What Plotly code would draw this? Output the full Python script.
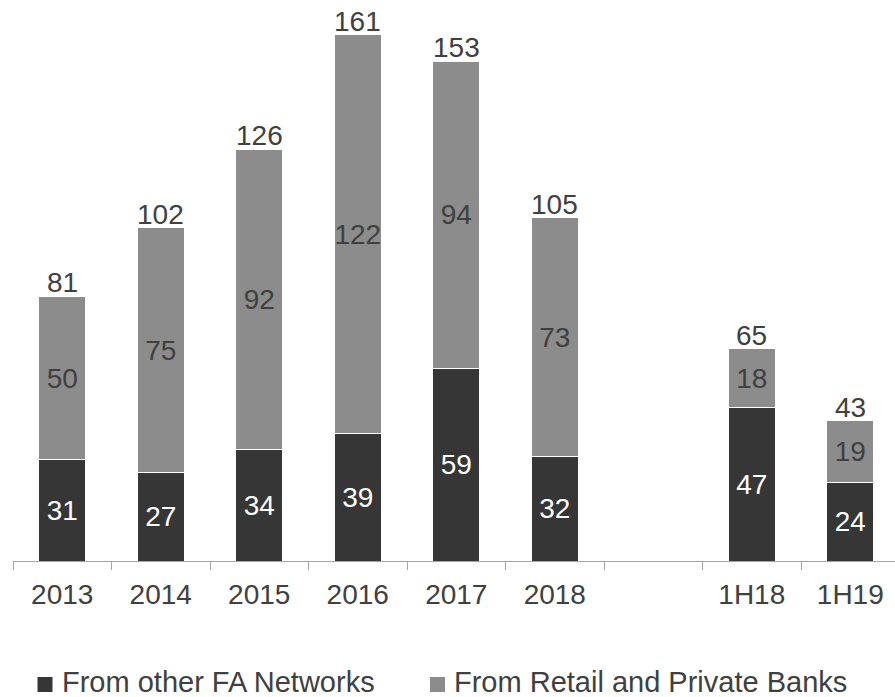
import plotly.graph_objects as go

# Periods on the category axis; the blank entry leaves a gap before the half-year bars
periods = ["2013", "2014", "2015", "2016", "2017", "2018", " ", "1H18", "1H19"]
fa_networks = [31, 27, 34, 39, 59, 32, None, 47, 24]
retail_private = [50, 75, 92, 122, 94, 73, None, 18, 19]
series_names = ["From other FA Networks", "From Retail and Private Banks"]

DARK = "#363636"
LIGHT = "#8c8c8c"
TEXT = "#404040"
FONT = "Liberation Sans, Arial, sans-serif"
FS = 28

W, H = 895, 697
ML, MR, MT, MB = 13, 0, 0, 136
PLOT_W = W - ML - MR
PLOT_H = H - MT - MB


def px_x(px):
    """Pixel column -> paper x."""
    return (px - ML) / PLOT_W


def px_y(py):
    """Pixel row (from top) -> paper y."""
    return (H - MB - py) / PLOT_H


totals = [a + b if a is not None else None for a, b in zip(fa_networks, retail_private)]

fig = go.Figure()
for vals, name, color, tcolor in [(fa_networks, series_names[0], DARK, "#ffffff"),
                                  (retail_private, series_names[1], LIGHT, TEXT)]:
    fig.add_trace(go.Bar(
        x=periods, y=vals, name=name, showlegend=False,
        marker=dict(color=color, line=dict(color="#ffffff", width=1)),
        width=0.48,
        text=[str(v) if v is not None else "" for v in vals],
        textposition="inside", insidetextanchor="middle", textangle=0,
        constraintext="none",
        textfont=dict(color=tcolor, size=FS, family=FONT),
    ))

# Stack totals above each bar
for i, t in enumerate(totals):
    if t is None:
        continue
    fig.add_annotation(x=i, y=t, text=str(t), showarrow=False, yanchor="bottom",
                       font=dict(color=TEXT, size=FS, family=FONT), yshift=-4)

# Legend row below the axis: square swatch followed by the series name
legend_rows = [(series_names[0], DARK, 37.5), (series_names[1], LIGHT, 430)]
for name, color, left in legend_rows:
    fig.add_shape(type="rect", xref="paper", yref="paper",
                  x0=px_x(left), x1=px_x(left + 15), y0=px_y(692), y1=px_y(677),
                  fillcolor=color, line=dict(width=0))
    fig.add_annotation(xref="paper", yref="paper", x=px_x(left + 22), y=px_y(681.5),
                       xanchor="left", yanchor="middle", text=name, showarrow=False,
                       font=dict(color=TEXT, size=29, family=FONT))

fig.update_layout(
    barmode="stack",
    width=W, height=H,
    margin=dict(l=ML, r=MR, t=MT, b=MB),
    paper_bgcolor="#ffffff", plot_bgcolor="#ffffff",
    font=dict(family=FONT, size=FS, color=TEXT),
    showlegend=False,
    xaxis=dict(
        type="category", range=[-0.5, 8.454],
        showline=True, linecolor="#a6a6a6", linewidth=1,
        ticks="outside", tickson="boundaries", ticklen=8, tickcolor="#a6a6a6",
        showgrid=False, zeroline=False, ticklabelstandoff=8,
        tickfont=dict(size=FS, color=TEXT, family=FONT),
        automargin=False,
    ),
    yaxis=dict(visible=False, range=[0, 171.7]),
)

fig.write_html("out.html")
